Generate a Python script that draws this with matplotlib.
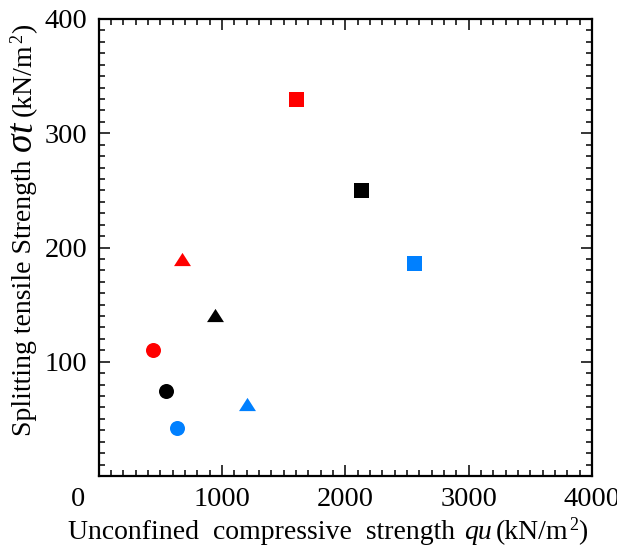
import matplotlib
matplotlib.use("Agg")
import matplotlib.pyplot as plt
from matplotlib.ticker import MultipleLocator, FixedFormatter, FixedLocator
from matplotlib.transforms import IdentityTransform

plt.rcParams['font.family'] = 'Liberation Serif'

# unconfined compressive strength qu [kN/m2] vs splitting tensile strength [kN/m2]
qu_square = [1600, 2125, 2555]
st_square = [330, 250, 186]
qu_triangle = [680, 943, 1200]
st_triangle = [190, 141, 63]
qu_circle = [438, 551, 640]
st_circle = [110, 74, 42]
colors = ['#ff0000', '#000000', '#0080ff']

x_ticks = [0, 1000, 2000, 3000, 4000]
x_tick_labels = ['', '1000', '2000', '3000', '4000']
y_ticks = [0, 100, 200, 300, 400]
y_tick_labels = ['', '100', '200', '300', '400']

W, H = 617, 549
fig = plt.figure(figsize=(W / 100, H / 100), dpi=100)
ax = fig.add_axes([98.5 / W, 1 - 476 / H, (592 - 98.5) / W, (476 - 19) / H])

tri = [(-1, -0.78), (1, -0.78), (0, 0.78)]
for i, c in enumerate(colors):
    ax.plot(qu_square[i], st_square[i], 's', color=c, ms=10.8, mew=0)
    ax.plot(qu_triangle[i], st_triangle[i], marker=tri, ls='none', color=c, ms=12.2, mew=0)
    ax.plot(qu_circle[i], st_circle[i], 'o', color=c, ms=10.8, mew=0)

ax.set_xlim(0, 4000)
ax.set_ylim(0, 400)
ax.xaxis.set_major_locator(FixedLocator(x_ticks))
ax.xaxis.set_major_formatter(FixedFormatter(x_tick_labels))
ax.yaxis.set_major_locator(FixedLocator(y_ticks))
ax.yaxis.set_major_formatter(FixedFormatter(y_tick_labels))
ax.xaxis.set_minor_locator(MultipleLocator(100))
ax.yaxis.set_minor_locator(MultipleLocator(10))
ax.tick_params(which='both', direction='in', top=True, right=True, width=1.1, labelsize=20.5)
ax.tick_params(which='major', length=8, pad=8)
ax.tick_params(which='minor', length=4)
for sp in ax.spines.values():
    sp.set_linewidth(1.6)

# shared origin label sits off the corner
ax.annotate('0', xy=(0, 0), xytext=(-20, -11), textcoords='offset pixels',
            ha='center', va='top', fontsize=20.5)


def text_run(x0, y0, pieces, rotation=0):
    # lay out mixed-style pieces one after another along the baseline
    r = fig.canvas.get_renderer()
    pos = 0.0
    for s, size, style, rise, gap in pieces:
        if rotation:
            xy = (x0 - rise, y0 + pos)
        else:
            xy = (x0 + pos, y0 + rise)
        t = fig.text(xy[0], xy[1], s, fontsize=size, style=style, rotation=rotation,
                     rotation_mode='anchor', ha='left', va='baseline',
                     transform=IdentityTransform())
        bb = t.get_window_extent(r)
        pos += (bb.height if rotation else bb.width) + gap


text_run(68, H - 539, [
    ('Unconfined  compressive  strength', 20, 'normal', 0, 9),
    ('qu', 20, 'italic', 0, 4),
    ('(kN/m', 20, 'normal', 0, 0.5),
    ('2', 13, 'normal', 9, 0.5),
    (')', 20, 'normal', 0, 0),
])

text_run(31, H - 436, [
    ('Splitting tensile Strength', 20, 'normal', 0, 9),
    ('σ', 27, 'italic', 0, 0),
    ('t', 27, 'italic', 0, 6),
    ('(kN/m', 20, 'normal', 0, 0.5),
    ('2', 13, 'normal', 9, 0.5),
    (')', 20, 'normal', 0, 0),
], rotation=90)

fig.savefig('out.png', dpi=100)
